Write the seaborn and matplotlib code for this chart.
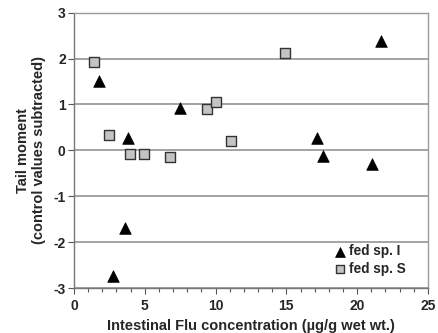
import matplotlib
matplotlib.use("Agg")
import matplotlib.pyplot as plt
from matplotlib.ticker import MultipleLocator
import seaborn as sns

# data
flu_I = [1.79, 2.78, 3.60, 3.81, 7.48, 17.15, 17.62, 21.03, 21.71]
tail_I = [1.52, -2.73, -1.69, 0.27, 0.93, 0.27, -0.12, -0.29, 2.38]

flu_S = [1.43, 2.49, 3.98, 4.92, 6.75, 9.36, 10.05, 11.08, 14.87]
tail_S = [1.93, 0.34, -0.08, -0.08, -0.14, 0.90, 1.05, 0.20, 2.12]

sns.set_style("white")
plt.rcParams['font.family'] = ['Liberation Sans', 'DejaVu Sans']
plt.rcParams['axes.unicode_minus'] = False

fig = plt.figure(figsize=(4.38, 3.33), dpi=100)
ax = fig.add_axes([0.169, 0.135, 0.808, 0.827])

for y in range(-3, 4):
    ax.axhline(y, color="#8a8a8a", lw=1.1, zorder=1)

sns.scatterplot(x=flu_I, y=tail_I, marker="^", s=70, color="black",
                edgecolor="black", linewidth=0.5, label="fed sp. I", ax=ax, zorder=3)
sns.scatterplot(x=flu_S, y=tail_S, marker="s", s=45, color="#c4c4c4",
                edgecolor="#333333", linewidth=1.0, label="fed sp. S", ax=ax, zorder=3)

ax.set_xlim(0, 25)
ax.set_ylim(-3, 3)
ax.xaxis.set_major_locator(MultipleLocator(5))
ax.xaxis.set_minor_locator(MultipleLocator(1))
ax.yaxis.set_major_locator(MultipleLocator(1))

for sp in ax.spines.values():
    sp.set_color("#9a9a9a")
    sp.set_linewidth(1.0)
ax.spines["left"].set_color("#777777")
ax.spines["bottom"].set_color("#777777")

ax.tick_params(axis="both", which="major", direction="out", length=4, width=0.8,
               color="#555555", labelsize=10, pad=2)
ax.tick_params(axis="x", which="major", pad=4)
ax.tick_params(axis="x", which="minor", direction="out", length=3, width=0.8,
               color="#555555", bottom=True)
ax.tick_params(axis="x", which="major", bottom=True)
ax.tick_params(axis="y", which="major", left=True)
for lab in ax.get_xticklabels() + ax.get_yticklabels():
    lab.set_fontweight("bold")

ax.set_xlabel("Intestinal Flu concentration (\u00b5g/g wet wt.)", fontsize=10.5,
              fontweight="bold", labelpad=4)
ax.set_ylabel("Tail moment\n(control values subtracted)", fontsize=10.5,
              fontweight="bold", labelpad=5)

leg = ax.legend(loc="lower right", bbox_to_anchor=(0.965, 0.01), frameon=False,
                handletextpad=0.2, borderaxespad=0.3, labelspacing=0.25,
                handlelength=0.9, markerscale=0.85,
                prop={"weight": "bold", "size": 9.8})

fig.savefig("out.png", dpi=100)
